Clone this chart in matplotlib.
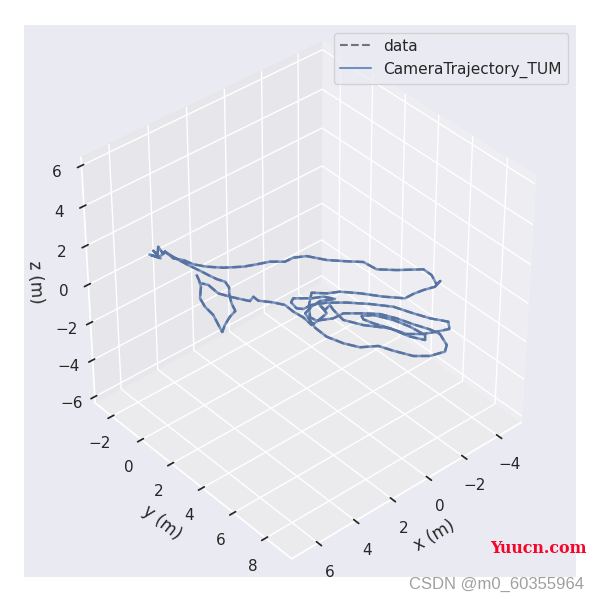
import numpy as np
import matplotlib
matplotlib.use('Agg')
import matplotlib.pyplot as plt
import seaborn as sns

sns.set_theme(style='darkgrid')

# trajectory, metres
x_m = [3.64,3.78,4.0,4.52,4.72,4.81,5.11,5.24,4.87,4.37,3.97,3.76,3.48,3.16,3.04,3.18,3.26,3.35,3.46,3.54,3.6,3.62,3.78,3.62,3.96,3.95,4.05,4.16,4.24,4.05,3.62,3.65,3.41,3.28,2.97,2.49,1.82,1.3,0.77,0.3,-0.14,-0.63,-1.08,-1.65,-2.14,-2.22,-2.81,-3.68,-3.67,-3.4,-3.67,-3.24,-2.73,-2.24,-1.79,-1.2,-0.63,-0.08,0.4,0.84,1.45,1.95,1.89,1.28,0.76,0.15,-0.33,-0.65,-0.9,-1.18,-1.28,-1.01,-0.67,-0.03,0.47,0.85,1.1,1.71,2.04,2.27,2.24,2.07,1.93,1.44,0.94,0.39,0.65,1.08,1.65,1.89,1.98,1.8,1.37,0.81,0.19,-0.46,-1.06,-1.38,-1.67,-2.08,-1.79,-1.28,-0.78,-0.27,-0.01,0.28,0.41,0.32,-0.08,-0.48,-0.69,-0.79,-0.57,-0.26,-0.01,0.66,1.05,0.92,0.81,1.18,1.12,1.27,1.93,2.23,2.16,2.22,2.19,2.44,2.83,2.81,3.1,3.28,3.53,3.75,3.7,3.84]
y_m = [-0.73,-0.41,-0.01,0.56,1.12,1.76,2.51,2.85,2.57,2.29,2.15,1.66,1.18,0.78,0.38,0.05,-0.32,-0.87,-1.39,-1.94,-2.41,-2.83,-2.75,-3.28,-2.91,-3.2,-2.59,-2.9,-3.1,-2.68,-2.83,-2.24,-1.88,-1.38,-0.9,-0.39,0.1,0.34,0.56,0.97,0.99,1.27,2.02,2.63,3.12,3.85,4.43,5.12,5.62,6.22,6.15,6.29,6.14,6.06,6.05,5.39,4.6,3.98,3.71,3.27,3.81,4.45,4.79,5.12,5.14,5.67,6.15,6.8,7.53,8.21,8.69,9.38,9.64,9.45,9.02,8.25,7.63,7.21,6.59,5.83,5.09,4.58,4.12,3.97,3.91,4.21,3.78,3.55,3.06,3.2,3.65,3.86,3.88,4.17,4.7,5.39,6.15,7.0,7.68,8.33,8.7,8.49,8.25,7.81,7.1,6.42,5.96,5.76,6.02,6.79,7.55,8.34,8.58,8.02,7.1,6.24,5.46,4.71,4.37,4.49,4.11,4.7,4.84,4.87,4.27,3.73,3.17,2.73,2.24,1.91,2.04,1.73,1.28,0.8,0.1,-0.16]
z_m = [0.0] * len(x_m)  # height can't be read from one view, keep it flat

fig = plt.figure(figsize=(6, 6.02), dpi=100)
ax = fig.add_axes([0.04, 24/602, 0.92, 554/602], projection='3d')
ax.view_init(elev=38, azim=49)
ax.set_box_aspect((1, 1, 1), zoom=0.95)
ax.plot(x_m, y_m, z_m, '--', color='black', alpha=0.5, lw=1.7, label='data')
ax.plot(x_m, y_m, z_m, '-', color='#4c72b0', alpha=0.75, lw=1.8, solid_joinstyle='round', label='CameraTrajectory_TUM')
ax.set_xlim(-5.35, 7.4)
ax.set_ylim(-3.15, 9.6)
ax.set_zlim(-6.35, 6.4)
ax.set_xlabel('x (m)')
ax.set_ylabel('y (m)')
ax.set_zlabel('z (m)')
leg = ax.legend(loc='upper right', frameon=True, fontsize=11.1)
for h in leg.get_lines():
    h.set_linewidth(1.5)
fig.text(0.817, 0.082, 'Yuucn.com', color='#f5052a', family='DejaVu Serif', fontsize=11.4, weight='bold')
fig.text(0.681, 0.022, 'CSDN @m0_60355964', color='#a0a0a0', family='Liberation Sans', fontsize=12)
fig.savefig('out.png', dpi=100)
